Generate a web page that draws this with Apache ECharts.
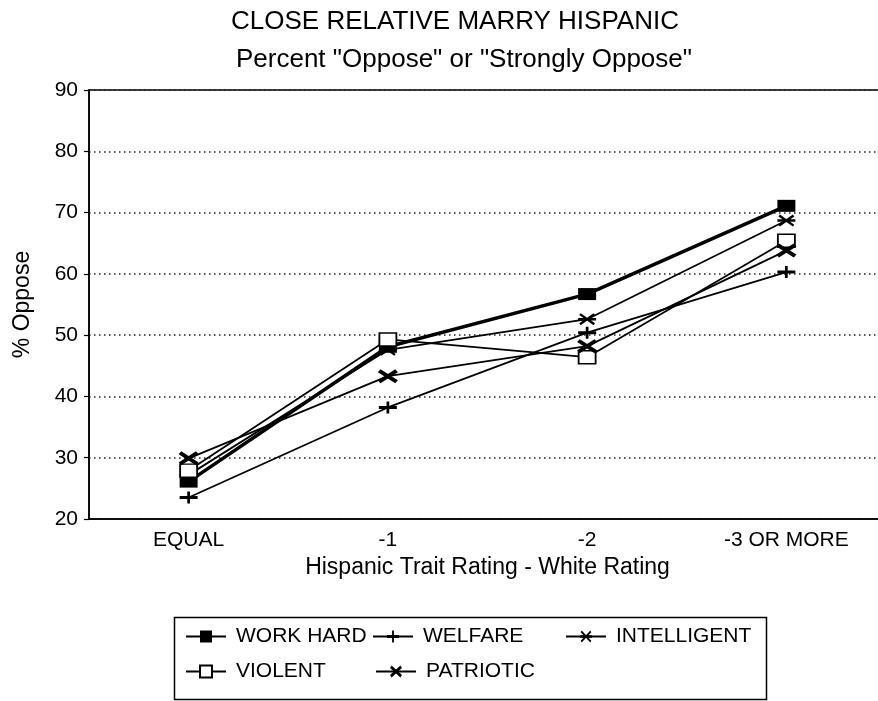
<!DOCTYPE html>
<html>
<head>
<meta charset="utf-8">
<script src="https://cdn.jsdelivr.net/npm/echarts@6/dist/echarts.min.js"></script>
<style>
html,body{margin:0;padding:0;background:#fff;overflow:hidden;}
#chart{width:886px;height:701px;}
</style>
</head>
<body>
<div id="chart"></div>
<script>
// ---- data ----
var categories = ['EQUAL', '-1', '-2', '-3 OR MORE'];
var workHard    = [26.1, 48.1, 56.7, 71.1];
var welfare     = [23.5, 38.2, 50.4, 60.3];
var intelligent = [27.2, 47.6, 52.6, 68.7];
var violent     = [27.9, 49.3, 46.4, 65.4];
var patriotic   = [29.9, 43.3, 48.2, 63.8];
var yTicks = [20, 30, 40, 50, 60, 70, 80, 90];

var FONT = '"Liberation Sans", Arial, sans-serif';

var PLUS = 'path://M0,4.5 L20,4.5 L20,7.5 L0,7.5 Z M8.5,0 L11.5,0 L11.5,12 L8.5,12 Z';
var STAR = 'path://M0,4.6 L20,4.6 L20,7.4 L0,7.4 Z ' +
  'M2.8,-1.1 L18.8,10.9 L17.2,13.1 L1.2,1.1 Z ' +
  'M1.2,10.9 L17.2,-1.1 L18.8,1.1 L2.8,13.1 Z';
var XMARK = 'path://M3.2,-1.6 L19.2,10.4 L16.8,13.6 L0.8,1.6 Z ' +
  'M0.8,10.4 L16.8,-1.6 L19.2,1.6 L3.2,13.6 Z';

function mkSeries(name, data, symbol, size, width, hollow) {
  return {
    name: name,
    type: 'line',
    data: data,
    symbol: symbol,
    symbolSize: size,
    showSymbol: true,
    lineStyle: { color: '#000', width: width },
    itemStyle: hollow
      ? { color: '#fff', borderColor: '#000', borderWidth: 1.6 }
      : { color: '#000', borderWidth: 0 },
    emphasis: { disabled: true },
    animation: false
  };
}

function mkLegend(name, left, top) {
  return {
    data: [name],
    left: left,
    top: top,
    itemWidth: 40,
    itemHeight: 15,
    padding: 0,
    selectedMode: false,
    textStyle: { fontFamily: FONT, fontSize: 21, color: '#000', padding: [0, 0, 0, 5] }
  };
}

var chart = echarts.init(document.getElementById('chart'), null, { renderer: 'canvas' });
chart.setOption({
  backgroundColor: '#fff',
  animation: false,
  title: [
    { text: 'CLOSE RELATIVE MARRY HISPANIC', left: 455, top: 9, textAlign: 'center', padding: 0,
      textStyle: { fontFamily: FONT, fontSize: 26, fontWeight: 'normal', color: '#000' } },
    { text: 'Percent "Oppose" or "Strongly Oppose"', left: 464, top: 47, textAlign: 'center', padding: 0,
      textStyle: { fontFamily: FONT, fontSize: 26, fontWeight: 'normal', color: '#000' } }
  ],
  grid: { left: 89, right: 0, top: 90, bottom: 182, show: true, borderColor: '#000', borderWidth: 1.5, backgroundColor: 'transparent' },
  xAxis: {
    type: 'category',
    data: categories,
    boundaryGap: true,
    axisLine: { lineStyle: { color: '#000', width: 1.5 } },
    axisTick: { alignWithLabel: true, length: 7, lineStyle: { color: '#000', width: 1.2 } },
    axisLabel: { fontFamily: FONT, fontSize: 21, color: '#000', margin: 11 },
    splitLine: { show: false },
    name: 'Hispanic Trait Rating - White Rating',
    nameLocation: 'middle',
    nameGap: 37,
    nameTextStyle: { fontFamily: FONT, fontSize: 23, color: '#000' }
  },
  yAxis: {
    type: 'value',
    min: yTicks[0],
    max: yTicks[yTicks.length - 1],
    interval: 10,
    axisLine: { show: true, lineStyle: { color: '#000', width: 1.5 } },
    axisTick: { show: true, length: 5, lineStyle: { color: '#000', width: 1.2 } },
    axisLabel: { fontFamily: FONT, fontSize: 21, color: '#000', margin: 11 },
    splitLine: { show: true, lineStyle: { color: '#222', width: 1.5, type: [1.5, 3.5] } },
    name: '% Oppose',
    nameLocation: 'middle',
    nameGap: 55,
    nameRotate: 90,
    nameTextStyle: { fontFamily: FONT, fontSize: 23, color: '#000' }
  },
  legend: [
    mkLegend('WORK HARD', 185, 626),
    mkLegend('WELFARE', 372, 626),
    mkLegend('INTELLIGENT', 565, 626),
    mkLegend('VIOLENT', 185, 661),
    mkLegend('PATRIOTIC', 375, 661)
  ],
  graphic: [
    { type: 'rect', shape: { x: 174.5, y: 617.5, width: 592, height: 82 },
      style: { fill: 'none', stroke: '#000', lineWidth: 1.5 }, silent: true, z: 0 }
  ],
  series: [
    mkSeries('WORK HARD', workHard, 'rect', [18, 12], 3.5, false),
    mkSeries('WELFARE', welfare, PLUS, [18, 12], 1.8, false),
    mkSeries('INTELLIGENT', intelligent, STAR, [18, 12], 1.8, false),
    mkSeries('VIOLENT', violent, 'rect', [17, 13], 1.8, true),
    mkSeries('PATRIOTIC', patriotic, XMARK, [20, 14], 1.8, false)
  ]
});
</script>
</body>
</html>
